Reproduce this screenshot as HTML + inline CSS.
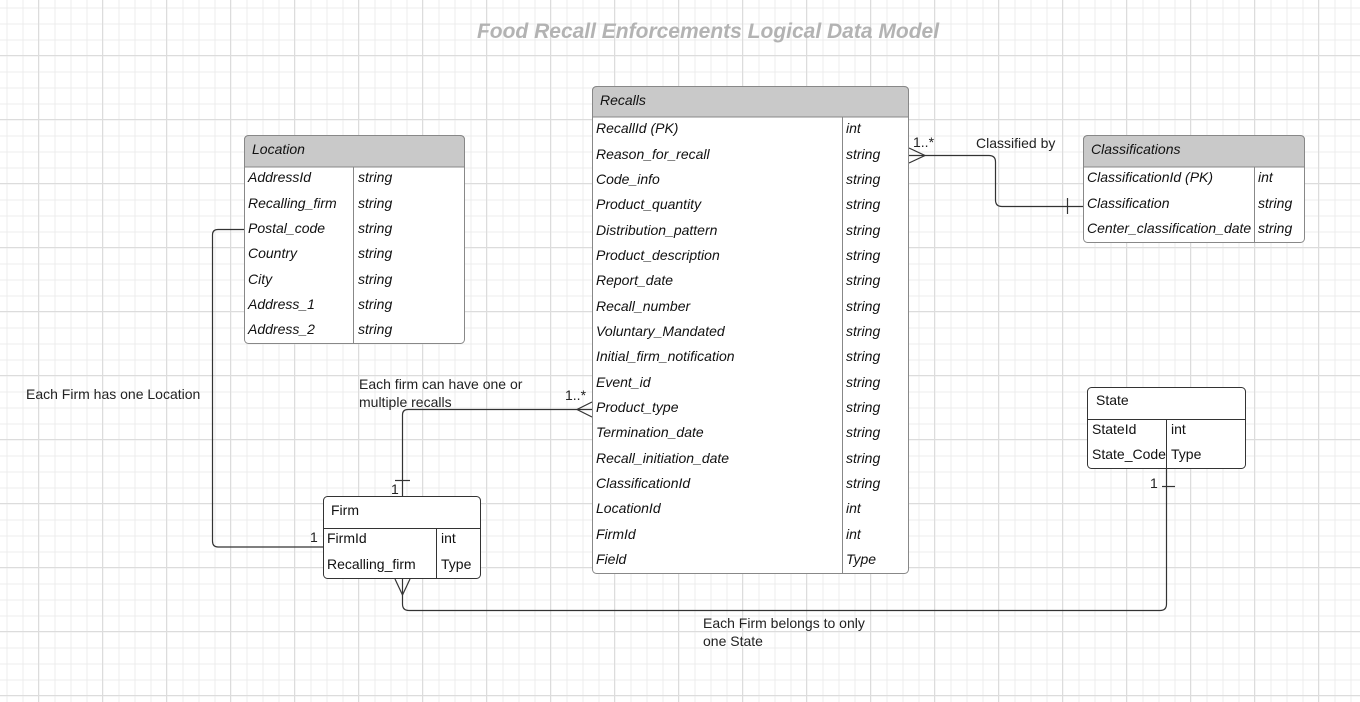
<!DOCTYPE html>
<html><head><meta charset="utf-8"><style>
html,body{margin:0;padding:0;background:#fff;}
svg{display:block;font-family:"Liberation Sans",sans-serif;}
</style></head><body>
<svg width="1360" height="702" xmlns="http://www.w3.org/2000/svg">
<defs>
<pattern id="mn" x="6.5" y="7.5" width="16" height="16" patternUnits="userSpaceOnUse"><path d="M0 0.5H16M0.5 0V16" stroke="#ececec" stroke-width="1" fill="none"/></pattern>
<pattern id="mj" x="38" y="55" width="64" height="64" patternUnits="userSpaceOnUse"><path d="M0 0.5H64M0.5 0V64" stroke="#dcdcdc" stroke-width="1" fill="none"/></pattern>
</defs>
<rect width="1360" height="702" fill="url(#mn)"/>
<rect width="1360" height="702" fill="url(#mj)"/>
<text x="708" y="38" text-anchor="middle" font-size="21" font-weight="bold" font-style="italic" fill="#b3b3b3">Food Recall Enforcements Logical Data Model</text>

<g fill="none" stroke="#333" stroke-width="1.2">
<path d="M244 229.5H218Q212.5 229.5 212.5 235V541Q212.5 547 218 547H323"/>
<path d="M402.5 496V415Q402.5 409.5 408 409.5H592"/>
<path d="M395 480.5H410"/>
<path d="M592 402L577 409.5L592 417"/>
<path d="M909 155.5H989Q995.5 155.5 995.5 162V200Q995.5 206.5 1002 206.5H1083"/>
<path d="M909 148L925 155.5L909 163"/>
<path d="M1067.5 198V214"/>
<path d="M402.5 579V604Q402.5 610.5 409 610.5H1160Q1166.5 610.5 1166.5 604V469"/>
<path d="M395 579L402.5 595L410 579"/>
<path d="M1162 486.5H1175"/>
</g>

<g font-size="14" fill="#222">
<text x="913" y="147">1..*</text>
<text x="976" y="148">Classified by</text>
<text x="565" y="400">1..*</text>
<text x="391" y="494">1</text>
<text x="310" y="542">1</text>
<text x="1150" y="488">1</text>
<text x="26" y="399">Each Firm has one Location</text>
<text x="359" y="389">Each firm can have one or</text>
<text x="359" y="407">multiple recalls</text>
<text x="703" y="628">Each Firm belongs to only</text>
<text x="703" y="646">one State</text>
</g>

<g>
<rect x="592.5" y="86.5" width="316" height="487" rx="4" fill="#fff" stroke="#888"/>
<path d="M592.5 117V91Q592.5 86.5 597 86.5H904Q908.5 86.5 908.5 91V117Z" fill="#c9c9c9" stroke="#888"/>
<path d="M842.5 117V573.5" stroke="#888"/>
<g font-size="14" font-style="italic" fill="#111">
<text x="600" y="105">Recalls</text>
<text x="596" y="133">RecallId (PK)</text><text x="846" y="133">int</text>
<text x="596" y="159">Reason_for_recall</text><text x="846" y="159">string</text>
<text x="596" y="184">Code_info</text><text x="846" y="184">string</text>
<text x="596" y="209">Product_quantity</text><text x="846" y="209">string</text>
<text x="596" y="235">Distribution_pattern</text><text x="846" y="235">string</text>
<text x="596" y="260">Product_description</text><text x="846" y="260">string</text>
<text x="596" y="285">Report_date</text><text x="846" y="285">string</text>
<text x="596" y="311">Recall_number</text><text x="846" y="311">string</text>
<text x="596" y="336">Voluntary_Mandated</text><text x="846" y="336">string</text>
<text x="596" y="361">Initial_firm_notification</text><text x="846" y="361">string</text>
<text x="596" y="387">Event_id</text><text x="846" y="387">string</text>
<text x="596" y="412">Product_type</text><text x="846" y="412">string</text>
<text x="596" y="437">Termination_date</text><text x="846" y="437">string</text>
<text x="596" y="463">Recall_initiation_date</text><text x="846" y="463">string</text>
<text x="596" y="488">ClassificationId</text><text x="846" y="488">string</text>
<text x="596" y="513">LocationId</text><text x="846" y="513">int</text>
<text x="596" y="539">FirmId</text><text x="846" y="539">int</text>
<text x="596" y="564">Field</text><text x="846" y="564">Type</text>
</g></g>

<g>
<rect x="244.5" y="135.5" width="220" height="208" rx="4" fill="#fff" stroke="#888"/>
<path d="M244.5 167V140Q244.5 135.5 249 135.5H460Q464.5 135.5 464.5 140V167Z" fill="#c9c9c9" stroke="#888"/>
<path d="M353.5 167V343.5" stroke="#888"/>
<g font-size="14" font-style="italic" fill="#111">
<text x="252" y="154">Location</text>
<text x="248" y="182">AddressId</text><text x="358" y="182">string</text>
<text x="248" y="208">Recalling_firm</text><text x="358" y="208">string</text>
<text x="248" y="233">Postal_code</text><text x="358" y="233">string</text>
<text x="248" y="258">Country</text><text x="358" y="258">string</text>
<text x="248" y="284">City</text><text x="358" y="284">string</text>
<text x="248" y="309">Address_1</text><text x="358" y="309">string</text>
<text x="248" y="334">Address_2</text><text x="358" y="334">string</text>
</g></g>

<g>
<rect x="1083.5" y="135.5" width="221" height="107" rx="4" fill="#fff" stroke="#888"/>
<path d="M1083.5 167V140Q1083.5 135.5 1088 135.5H1300Q1304.5 135.5 1304.5 140V167Z" fill="#c9c9c9" stroke="#888"/>
<path d="M1254.5 167V242.5" stroke="#888"/>
<g font-size="14" font-style="italic" fill="#111">
<text x="1091" y="154">Classifications</text>
<text x="1087" y="182">ClassificationId (PK)</text><text x="1258" y="182">int</text>
<text x="1087" y="208">Classification</text><text x="1258" y="208">string</text>
<text x="1087" y="233">Center_classification_date</text><text x="1258" y="233">string</text>
</g></g>

<g>
<rect x="323.5" y="496.5" width="157" height="82" rx="4" fill="#fff" stroke="#333"/>
<path d="M323.5 528.5H480.5M436.5 528.5V578.5" stroke="#333"/>
<g font-size="14" fill="#111">
<text x="331" y="515">Firm</text>
<text x="327" y="543">FirmId</text><text x="441" y="543">int</text>
<text x="327" y="569">Recalling_firm</text><text x="441" y="569">Type</text>
</g></g>

<g>
<rect x="1087.5" y="387.5" width="158" height="81" rx="4" fill="#fff" stroke="#333"/>
<path d="M1087.5 419.5H1245.5M1166.5 419.5V468.5" stroke="#333"/>
<g font-size="14" fill="#111">
<text x="1096" y="405">State</text>
<text x="1092" y="434">StateId</text><text x="1171" y="434">int</text>
<text x="1092" y="459">State_Code</text><text x="1171" y="459">Type</text>
</g></g>
</svg>
</body></html>
